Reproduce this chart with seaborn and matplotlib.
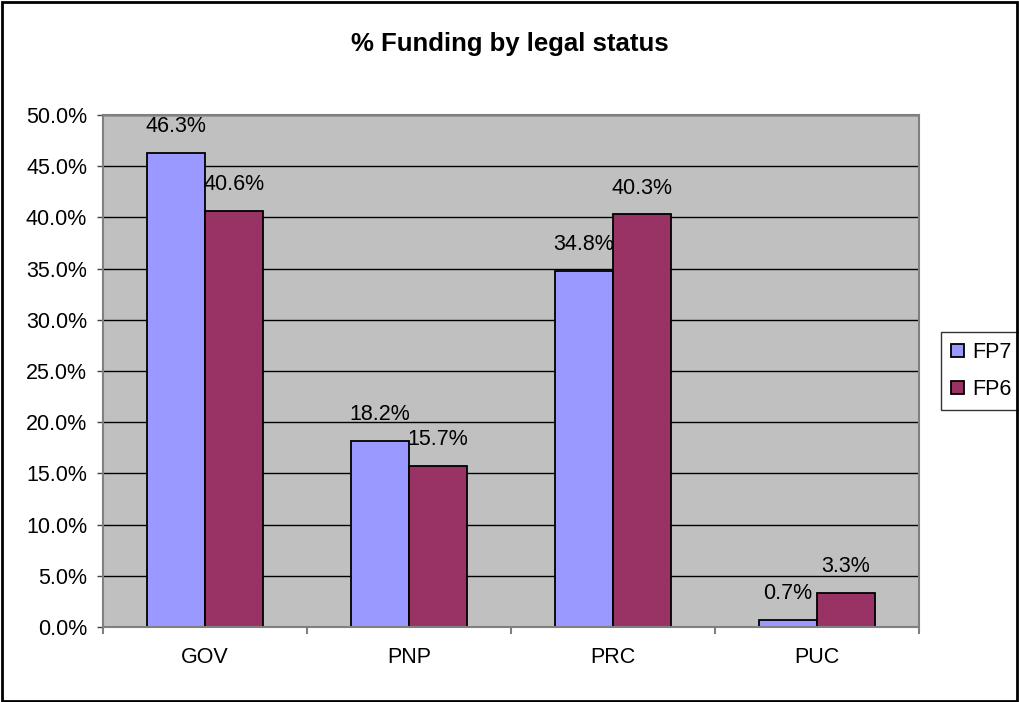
import matplotlib
matplotlib.use('Agg')
import matplotlib.pyplot as plt
import seaborn as sns
import pandas as pd
from matplotlib.patches import Rectangle
from matplotlib.ticker import FuncFormatter, MultipleLocator

categories = ['GOV', 'PNP', 'PRC', 'PUC']
fp7 = [46.3, 18.2, 34.8, 0.7]
fp6 = [40.6, 15.7, 40.3, 3.3]
series = ['FP7', 'FP6']
colors = ['#9999FF', '#993366']

df = pd.DataFrame({
    'status': categories * 2,
    'value': fp7 + fp6,
    'series': ['FP7'] * 4 + ['FP6'] * 4,
})

sns.set_style('white')
plt.rcParams['font.family'] = ['Liberation Sans', 'DejaVu Sans']
plt.rcParams['text.color'] = 'black'
plt.rcParams['xtick.color'] = 'black'
plt.rcParams['ytick.color'] = 'black'

fig = plt.figure(figsize=(10.2, 7.02), dpi=100)
ax = fig.add_axes([0.101, 0.107, 0.800, 0.729])
ax.set_facecolor('#C0C0C0')

sns.barplot(data=df, x='status', y='value', hue='series', hue_order=series,
            palette=colors, width=0.57, edgecolor='black', linewidth=1.3,
            saturation=1, ax=ax, legend=True)

for cont in ax.containers:
    for bar in cont:
        h = bar.get_height()
        ax.annotate(f'{h:.1f}%', (bar.get_x() + bar.get_width() / 2, h),
                    xytext=(0, 19), textcoords='offset points',
                    ha='center', va='center', fontsize=15.5, color='black')

ax.set_ylim(0, 50)
ax.set_xlim(-0.5, 3.5)
ax.yaxis.set_major_locator(MultipleLocator(5))
ax.yaxis.set_major_formatter(FuncFormatter(lambda v, p: f'{v:.1f}%'))
ax.grid(axis='y', color='black', linewidth=1)
ax.set_axisbelow(True)
ax.set_xlabel('')
ax.set_ylabel('')
for s in ax.spines.values():
    s.set_color('#808080')
    s.set_linewidth(1.5)

ax.tick_params(axis='y', left=True, length=4.5, width=1, color='#404040',
               labelsize=15.5, pad=7)
ax.tick_params(axis='x', bottom=False, labelsize=15.5, pad=11)
ax.set_xticks([-0.5, 0.5, 1.5, 2.5, 3.5], minor=True)
ax.tick_params(axis='x', which='minor', bottom=True, length=5, width=1.5,
               color='#808080')

leg = ax.legend(loc='center left', bbox_to_anchor=(1.027, 0.5), frameon=True,
                fancybox=False, edgecolor='black', fontsize=15.5,
                handlelength=0.6, handleheight=0.6, handletextpad=0.4,
                borderpad=0.45, labelspacing=0.75, borderaxespad=0)
leg.get_frame().set_linewidth(1)

fig.suptitle('% Funding by legal status', x=0.5, y=0.955, fontsize=18.5,
             fontweight='bold')

fig.patches.append(Rectangle((0.002, 0.002), 0.995, 0.995, transform=fig.transFigure,
                             fill=False, edgecolor='black', linewidth=2))

fig.savefig('out.png', dpi=100)
